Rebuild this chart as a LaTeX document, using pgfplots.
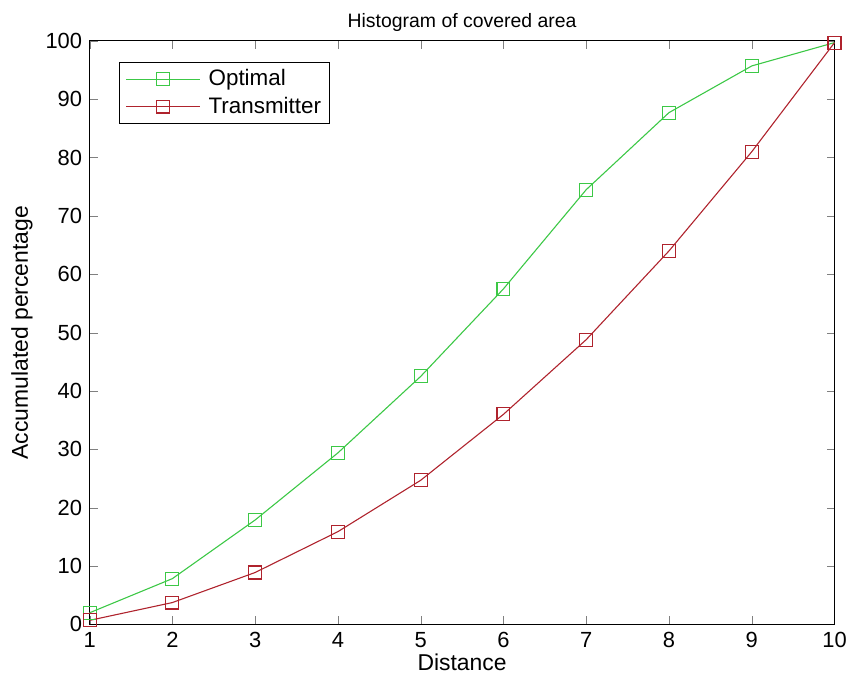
\documentclass[border=0pt]{standalone}
\usepackage{fontspec}
\setmainfont{Liberation Sans}
\usepackage{pgfplots}
\pgfplotsset{compat=1.18}
\definecolor{optgreen}{RGB}{60,200,70}
\definecolor{trred}{RGB}{175,35,45}
\begin{document}
\fontsize{22bp}{26bp}\selectfont
\begin{tikzpicture}
\begin{axis}[
  scale only axis,
  width=748bp, height=586bp,
  xmin=1, xmax=10, ymin=0, ymax=100,
  xtick={1,...,10}, ytick={0,10,...,100},
  tick align=inside,
  major tick length=8bp,
  /pgf/number format/assume math mode=true,
  tick label style={font=\fontsize{22bp}{26bp}\selectfont},
  label style={font=\fontsize{23bp}{27bp}\selectfont},
  title style={font=\fontsize{19.5bp}{22bp}\selectfont, yshift=-4bp},
  title={Histogram of covered area},
  xlabel={Distance}, ylabel={Accumulated percentage},
  xlabel style={yshift=8bp},
  ylabel style={yshift=-2bp},
  axis line style={line width=1.1bp},
  legend style={at={(rel axis cs:0.04,0.964)}, anchor=north west, draw=black, line width=1bp,
    font=\fontsize{22.5bp}{27bp}\selectfont, inner xsep=6bp, inner ysep=5bp, row sep=4bp,
    /tikz/every odd column/.append style={column sep=6bp}},
  legend cell align=left,
  legend image code/.code={\draw[line width=1.1bp, mark repeat=2,mark phase=2] plot coordinates {(0bp,0bp)(37bp,0bp)(74bp,0bp)};},
  clip=false,
]
\addplot[color=optgreen, line width=1.1bp, mark=square, mark size=6.5bp, mark options={line width=1.1bp}]
coordinates {(1,2.0)(2,7.85)(3,17.9)(4,29.4)(5,42.5)(6,57.5)(7,74.5)(8,87.7)(9,95.7)(10,99.7)};
\addlegendentry{Optimal}
\addplot[color=trred, line width=1.1bp, mark=square, mark size=6.5bp, mark options={line width=1.1bp}]
coordinates {(1,0.7)(2,3.75)(3,8.9)(4,15.9)(5,24.7)(6,36.0)(7,48.8)(8,64.0)(9,81.0)(10,99.7)};
\addlegendentry{Transmitter}
\path (rel axis cs:-0.1203,-0.1143) rectangle (rel axis cs:1.0214,1.07);
\end{axis}
\end{tikzpicture}
\end{document}
